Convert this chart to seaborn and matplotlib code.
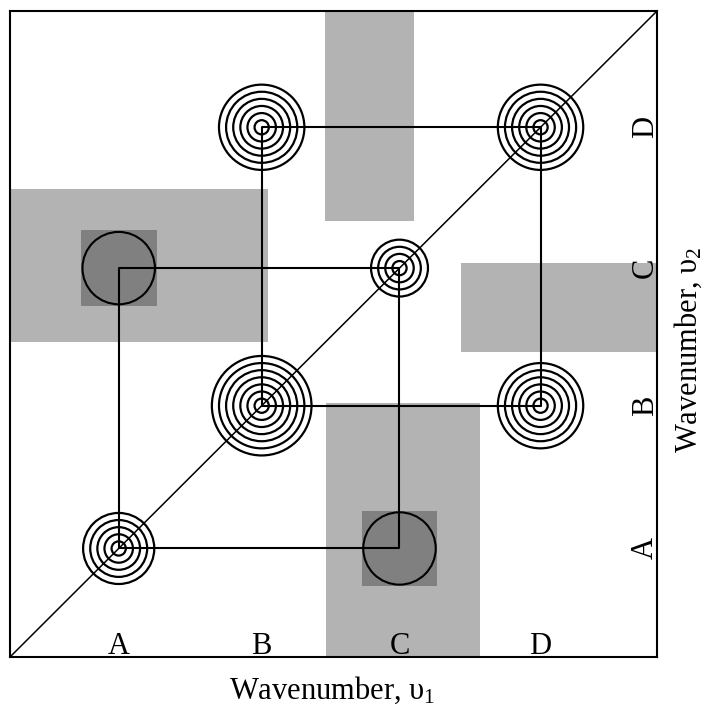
import matplotlib
matplotlib.use("Agg")
import matplotlib.pyplot as plt
from matplotlib.patches import Circle, Rectangle
import numpy as np
import pandas as pd
import seaborn as sns

# Band labels and their positions along both wavenumber axes (axis spans 0-100)
bands = ["A", "B", "C", "D"]
band_pos = [16.8, 38.9, 60.2, 82.0]

# Auto peaks on the diagonal: number of contour rings (intensity)
auto_rings = [5, 7, 4, 6]

# Positive cross peaks (v1 band, v2 band, rings)
pos_cross_v1 = ["B", "D"]
pos_cross_v2 = ["D", "B"]
pos_cross_rings = [6, 6]

# Negative cross peaks (v1 band, v2 band)
neg_cross_v1 = ["A", "C"]
neg_cross_v2 = ["C", "A"]

# Correlation squares linking the diagonal peaks
square_pairs = [("A", "C"), ("B", "D")]

# Shaded regions of the 1D spectra: (x0, x1, y0, y1)
shade_x0 = [48.7, 0.0, 69.7, 48.9]
shade_x1 = [62.4, 39.9, 100.0, 72.6]
shade_y0 = [67.5, 48.8, 47.2, 0.0]
shade_y1 = [100.0, 72.4, 61.0, 39.3]

ring_step = 1.1
neg_radius = 5.6
neg_half = 5.85

light_gray = "#b3b3b3"
dark_gray = "#808080"

sns.set_theme(style="white")
plt.rcParams["font.family"] = ["Liberation Serif", "DejaVu Serif"]
plt.rcParams["mathtext.fontset"] = "custom"
plt.rcParams["mathtext.rm"] = "Liberation Serif"
plt.rcParams["mathtext.default"] = "regular"
plt.rcParams["text.color"] = "black"
plt.rcParams["axes.labelcolor"] = "black"

pos = dict(zip(bands, band_pos))

fig = plt.figure(figsize=(7.07, 7.19), dpi=100)
ax = fig.add_axes([10 / 707, 62 / 719, 647 / 707, 646 / 719])
ax.set_xlim(0, 100)
ax.set_ylim(0, 100)

# shaded spectral regions
for x0, x1, y0, y1 in zip(shade_x0, shade_x1, shade_y0, shade_y1):
    ax.add_patch(Rectangle((x0, y0), x1 - x0, y1 - y0, facecolor=light_gray,
                           edgecolor="none", zorder=1))

# negative cross peaks: dark square with filled circle
for b1, b2 in zip(neg_cross_v1, neg_cross_v2):
    cx, cy = pos[b1], pos[b2]
    ax.add_patch(Rectangle((cx - neg_half, cy - neg_half), 2 * neg_half, 2 * neg_half,
                           facecolor=dark_gray, edgecolor="none", zorder=2))
    ax.add_patch(Circle((cx, cy), neg_radius, facecolor=dark_gray,
                        edgecolor="black", lw=1.5, zorder=3))

# diagonal
diag = pd.DataFrame({"v1": [0, 100], "v2": [0, 100]})
sns.lineplot(data=diag, x="v1", y="v2", color="black", lw=1.1, ax=ax, zorder=4)

# correlation squares
rows = []
for k, (p, q) in enumerate(square_pairs):
    path = [(p, p), (q, p), (q, q), (p, q), (p, p)]
    for i, (b1, b2) in enumerate(path):
        rows.append({"pair": k, "order": i, "v1": pos[b1], "v2": pos[b2]})
squares = pd.DataFrame(rows)
sns.lineplot(data=squares, x="v1", y="v2", units="pair", estimator=None, sort=False,
             color="black", lw=1.5, ax=ax, zorder=4)


def rings(cx, cy, n):
    for k in range(1, n + 1):
        ax.add_patch(Circle((cx, cy), k * ring_step, facecolor="none",
                            edgecolor="black", lw=1.6, zorder=5))


for b, n in zip(bands, auto_rings):
    rings(pos[b], pos[b], n)
for b1, b2, n in zip(pos_cross_v1, pos_cross_v2, pos_cross_rings):
    rings(pos[b1], pos[b2], n)

# band letters along bottom and right edges
for b in bands:
    ax.text(pos[b], 0.4, b, ha="center", va="baseline", fontsize=22, zorder=6)
    ax.text(100.4, pos[b], b, ha="right", va="center", rotation=90, fontsize=22, zorder=6)

ax.set_xticks([])
ax.set_yticks([])
for s in ax.spines.values():
    s.set_color("black")
    s.set_linewidth(1.5)
    s.set_visible(True)

ax.set_xlabel("Wavenumber, υ$_1$", fontsize=22, va="center")
ax.xaxis.set_label_coords(0.4985, -0.051)
ax.yaxis.set_label_position("right")
ax.set_ylabel("Wavenumber, υ$_2$", fontsize=22, rotation=90, va="center")
ax.yaxis.set_label_coords(1.048, 0.475)

fig.savefig("out.png", dpi=100)
